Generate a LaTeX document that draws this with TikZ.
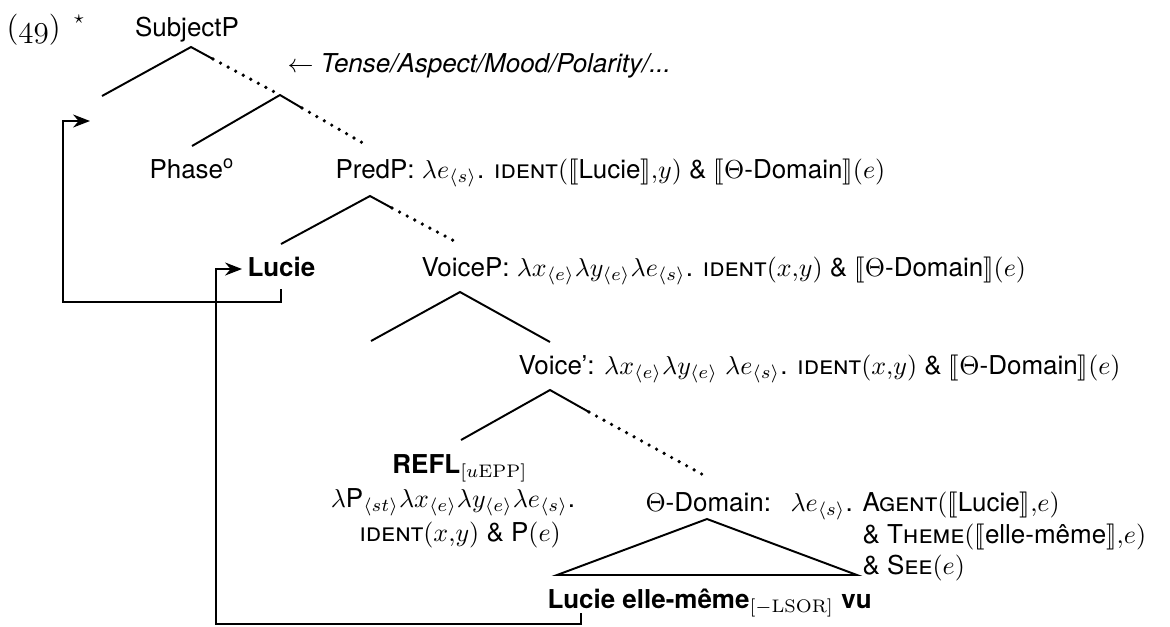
\documentclass[tikz,border=0pt]{standalone}
\usepackage{amsmath,amssymb}
\usepackage{stmaryrd}
\usepackage[no-math]{fontspec}
\setmainfont{TeX Gyre Heros}
\usetikzlibrary{arrows.meta}
\begin{document}
\begin{tikzpicture}[x=0.385pt,y=-0.385pt,
  br/.style={line width=0.75pt},
  dotbr/.style={line width=1.4pt,line cap=round,dash pattern=on 0pt off 3.3pt},
  mv/.style={line width=0.75pt,-{Stealth[length=6.5pt,width=5pt]}},
  lbl/.style={inner sep=0pt,anchor=base west},
  cl/.style={inner sep=0pt,anchor=base}]
\useasboundingbox (0,0) rectangle (1170,626);

% labels
\node[lbl,font=\large] (ex) at (6,37) {$(\mathnormal{49})$};
\node[inner sep=0pt] (star) at (79,19) {$\scriptstyle\star$};
\node[cl] (subj) at (187,36) {SubjectP};
\node[lbl] (tam) at (287,72) {$\leftarrow$ \textit{Tense/Aspect/Mood/Polarity/...}};
\node[lbl] (phase) at (149,178) {Phase\textsuperscript{o}};
\node[lbl] (predp) at (335,178) {PredP: $\lambda e_{\langle s\rangle}$. \textsc{ident}$(\llbracket\text{Lucie}\rrbracket{,}y)$ \& $\llbracket\Theta$-Domain$\rrbracket(e)$};
\node[lbl,font=\bfseries] (lucie) at (247,276) {Lucie};
\node[lbl] (voicep) at (421,276) {VoiceP: $\lambda x_{\langle e\rangle}\lambda y_{\langle e\rangle}\lambda e_{\langle s\rangle}$. \textsc{ident}$(x{,}y)$ \& $\llbracket\Theta$-Domain$\rrbracket(e)$};
\node[lbl] (voicebar) at (518,374) {Voice': $\lambda x_{\langle e\rangle}\lambda y_{\langle e\rangle}\ \lambda e_{\langle s\rangle}$. \textsc{ident}$(x{,}y)$ \& $\llbracket\Theta$-Domain$\rrbracket(e)$};
\node[cl] (refla) at (460,473) {\textbf{REFL}$_{[u\mathrm{EPP}]}$};
\node[cl] (reflb) at (453,507) {$\lambda$P$_{\langle st\rangle}\lambda x_{\langle e\rangle}\lambda y_{\langle e\rangle}\lambda e_{\langle s\rangle}$.};
\node[cl] (reflc) at (460,541) {\textsc{ident}$(x{,}y)$ \& P$(e)$};
\node[lbl] (thdom) at (645,511) {$\Theta$-Domain:};
\node[lbl] (lam) at (790,511) {$\lambda e_{\langle s\rangle}$.};
\node[lbl] (ag1) at (862,511) {\textsc{Agent}$(\llbracket\text{Lucie}\rrbracket{,}e)$};
\node[lbl] (ag2) at (862,543) {\& \textsc{Theme}$(\llbracket\text{elle-même}\rrbracket{,}e)$};
\node[lbl] (ag3) at (862,574) {\& \textsc{See}$(e)$};
\node[lbl] (lem) at (547,608) {\textbf{Lucie elle-même}$_{[-\mathrm{LSOR}]}$ \textbf{vu}};

% tree coordinates
\coordinate (a1) at (191,47); \coordinate (l1) at (102,96);
\coordinate (s1) at (213,59); \coordinate (a2) at (280,95);
\coordinate (l2) at (192,146); \coordinate (s2) at (302,108); \coordinate (d2) at (368,146);
\coordinate (a3) at (370,196); \coordinate (l3) at (281,244);
\coordinate (s3) at (392,208); \coordinate (d3) at (460,244);
\coordinate (a4) at (460,292); \coordinate (l4) at (371,341); \coordinate (r4) at (550,342);
\coordinate (a5) at (550,390); \coordinate (l5) at (461,440);
\coordinate (s5) at (589,412); \coordinate (d5) at (707,477);
\coordinate (t1) at (707,519); \coordinate (t2) at (557,575); \coordinate (t3) at (857,575);

\draw[br] (l1) -- (a1) -- (s1);
\draw[dotbr] (s1) -- (a2);
\draw[br] (l2) -- (a2) -- (s2);
\draw[dotbr] (s2) -- (d2);
\draw[br] (l3) -- (a3) -- (s3);
\draw[dotbr] (s3) -- (d3);
\draw[br] (l4) -- (a4) -- (r4);
\draw[br] (l5) -- (a5) -- (s5);
\draw[dotbr] (s5) -- (d5);
\draw[br] (t1) -- (t2) -- (t3) -- cycle;

% movement
\coordinate (m1s) at (281,289); \coordinate (m1t) at (90,121);
\draw[mv] (m1s) -- (281,302) -- (63,302) -- (63,121) -- (m1t);
\coordinate (m2s) at (581,613); \coordinate (m2t) at (242,269);
\draw[mv] (m2s) -- (581,624) -- (216,624) -- (216,269) -- (m2t);
\end{tikzpicture}
\end{document}
